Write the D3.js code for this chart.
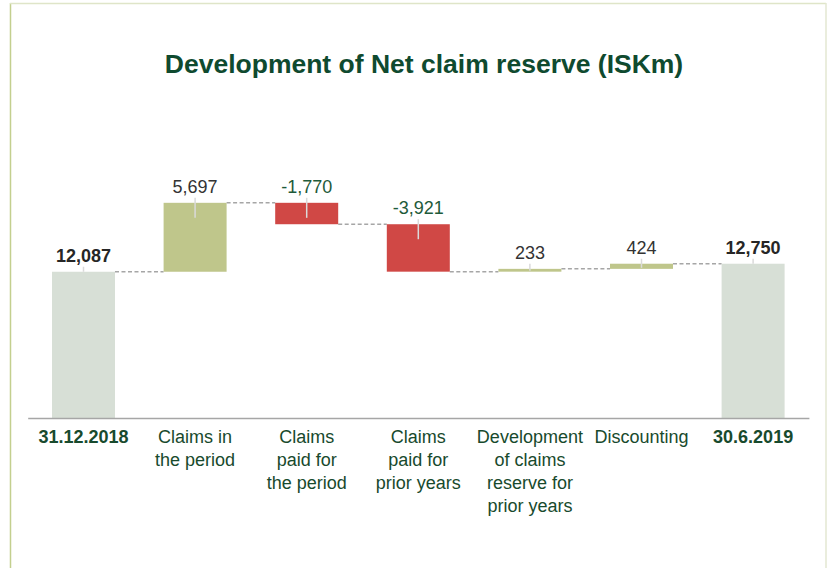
<!DOCTYPE html>
<html>
<head>
<meta charset="utf-8">
<script src="https://cdn.jsdelivr.net/npm/d3@7"></script>
<style>
  body { margin: 0; background: #fff; }
  svg text { font-family: "Liberation Sans", Arial, sans-serif; }
</style>
</head>
<body>
<svg id="chart" width="827" height="568"></svg>
<script>
// chart data
var categories = ["31.12.2018", "Claims in the period", "Claims paid for the period",
  "Claims paid for prior years", "Development of claims reserve for prior years",
  "Discounting", "30.6.2019"];
var labelLines = [
  ["31.12.2018"],
  ["Claims in", "the period"],
  ["Claims", "paid for", "the period"],
  ["Claims", "paid for", "prior years"],
  ["Development", "of claims", "reserve for", "prior years"],
  ["Discounting"],
  ["30.6.2019"]
];
var values = [12087, 5697, -1770, -3921, 233, 424, 12750];
var kinds = ["total", "delta", "delta", "delta", "delta", "delta", "total"];

var colors = { total: "#d7dfd6", up: "#bfc68b", down: "#d04845" };

var svg = d3.select("#chart");

//	frame around the chart
svg.append("line").attr("x1", 10.5).attr("x2", 10.5).attr("y1", 3).attr("y2", 568)
  .attr("stroke", "#c3cf8e").attr("stroke-width", 1.5);
svg.append("line").attr("x1", 10).attr("x2", 826).attr("y1", 3.5).attr("y2", 3.5)
  .attr("stroke", "#dfe5c8").attr("stroke-width", 1.5);
svg.append("line").attr("x1", 826).attr("x2", 826).attr("y1", 3).attr("y2", 568)
  .attr("stroke", "#e3e7d2").attr("stroke-width", 1.5);

svg.append("text").attr("x", 424).attr("y", 73)
  .attr("text-anchor", "middle")
  .style("font-size", "26.5px").style("font-weight", "bold").style("fill", "#0f4a2f")
  .text("Development of Net claim reserve (ISKm)");

//	running levels for the waterfall
var steps = [];
var level = 0;
values.forEach(function(v, i) {
  if (kinds[i] == "total") {
    steps.push({ cat: categories[i], start: 0, end: v, value: v, kind: "total" });
    level = v;
  } else {
    steps.push({ cat: categories[i], start: level, end: level + v, value: v, kind: v >= 0 ? "up" : "down" });
    level += v;
  }
});

var x = d3.scaleBand().domain(categories).range([27.7, 808.9])
  .paddingInner(0.4355).paddingOuter(0.2177);
var y = d3.scaleLinear().domain([0, 18000]).range([418, 418 - 18000 * 0.0121]);

function barTop(d) { return y(Math.max(d.start, d.end)); }
function barBottom(d) { return y(Math.min(d.start, d.end)); }
function barMid(d) { return x(d.cat) + x.bandwidth() / 2; }

// connectors
for (var i = 0; i < steps.length - 1; i++) {
  svg.append("line")
    .attr("x1", x(steps[i].cat) + x.bandwidth())
    .attr("x2", x(steps[i + 1].cat))
    .attr("y1", y(steps[i].end)).attr("y2", y(steps[i].end))
    .attr("stroke", "#a6a6a6").attr("stroke-width", 1.5)
    .attr("stroke-dasharray", "4,2.5");
}

svg.selectAll("rect.bar").data(steps).enter().append("rect")
  .attr("class", "bar")
  .attr("x", function(d) { return x(d.cat); })
  .attr("width", x.bandwidth())
  .attr("y", barTop)
  .attr("height", function(d) { return barBottom(d) - barTop(d); })
  .attr("fill", function(d) { return colors[d.kind]; });

// little leader ticks under the value labels, kept inside the bar
svg.selectAll("line.lead").data(steps).enter().append("line")
  .attr("class", "lead")
  .attr("x1", barMid).attr("x2", barMid)
  .attr("y1", function(d) { return barTop(d) - 5; })
  .attr("y2", function(d) {
    if (d.kind == "total") return barTop(d);
    return Math.min(barTop(d) + 15, barBottom(d) - 1);
  })
  .attr("stroke", "#dadada")
  .attr("stroke-width", 1.5);

svg.selectAll("text.val").data(steps).enter().append("text")
  .attr("class", "val")
  .attr("x", barMid)
  .attr("y", function(d) { return barTop(d) - 10; })
  .attr("text-anchor", "middle")
  .style("font-size", "18px")
  .style("font-weight", function(d) { return d.kind == "total" ? "bold" : "normal"; })
  .style("fill", function(d) {
    if (d.kind == "total") return "#262626";
    return d.kind == "down" ? "#1e5a3a" : "#333333";
  })
  .text(function(d) { return d3.format(",")(d.value).replace("−", "-"); });

// x axis
var axis = svg.append("g").attr("transform", "translate(0,418)")
  .call(d3.axisBottom(x).tickSize(0).tickSizeOuter(0));
axis.select(".domain").attr("stroke", "#a6a6a6").attr("stroke-width", 1.5);
axis.selectAll(".tick text").each(function(d, i) {
  var t = d3.select(this).text(null).attr("y", 0).attr("dy", null)
    .style("font-size", "18px").style("fill", "#184a2d")
    .style("font-weight", kinds[i] == "total" ? "bold" : "normal");
  labelLines[i].forEach(function(line, j) {
    t.append("tspan").attr("x", 0).attr("y", 25 + j * 23).text(line);
  });
});
</script>
</body>
</html>
